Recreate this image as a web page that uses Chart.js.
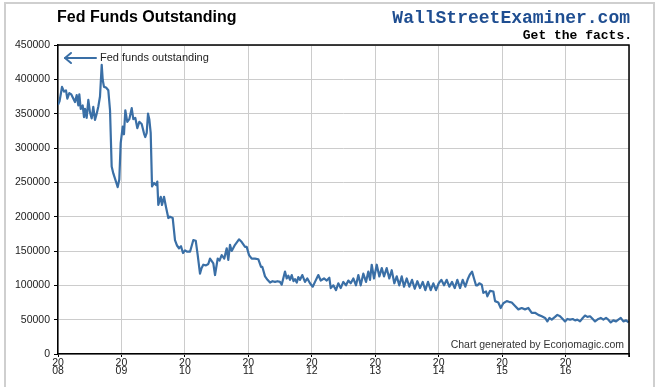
<!DOCTYPE html>
<html><head><meta charset="utf-8">
<script src="https://cdn.jsdelivr.net/npm/chart.js@4"></script>
<style>
html,body{margin:0;padding:0;background:#fff;overflow:hidden}
#wrap{position:relative;width:659px;height:387px;overflow:hidden}
#c{position:absolute;left:0;top:0}
#frame{position:absolute;left:4px;top:2px;width:651px;height:400px;box-sizing:border-box;border:2px solid #cfcfcf;border-bottom:none}
.t{position:absolute;white-space:nowrap}
</style></head><body>
<div id="wrap">
<canvas id="c" width="659" height="387"></canvas>
<div id="frame"></div>
<div class="t" style="left:57px;top:9.2px;font:bold 16px/1 'Liberation Sans',Arial,sans-serif;color:#000">Fed Funds Outstanding</div>
<div class="t" style="right:29px;top:8.9px;font:bold 18px/1 'Liberation Mono','Courier New',monospace;color:#1f4e91">WallStreetExaminer.com</div>
<div class="t" style="right:27px;top:29.3px;font:bold 13px/1 'Liberation Mono','Courier New',monospace;color:#000">Get the facts.</div>
<div class="t" style="left:100px;top:52.2px;font:11px/1 'Liberation Sans',Arial,sans-serif;color:#222">Fed funds outstanding</div>
<div class="t" style="right:35px;top:339.4px;font:10.5px/1 'Liberation Sans',Arial,sans-serif;color:#333">Chart generated by Economagic.com</div>
</div>
<script>
const dates = [
2008.000,2008.024,2008.047,2008.063,2008.095,2008.126,2008.147,2008.178,2008.210,2008.241,
2008.268,2008.295,2008.320,2008.336,2008.358,2008.389,2008.410,2008.426,2008.452,2008.478,
2008.504,2008.531,2008.556,2008.583,2008.610,2008.635,2008.662,2008.689,2008.705,2008.725,
2008.757,2008.793,2008.820,2008.846,2008.872,2008.914,2008.941,2008.966,2008.988,2009.020,
2009.040,2009.061,2009.092,2009.124,2009.162,2009.187,2009.218,2009.250,2009.282,2009.319,
2009.356,2009.376,2009.398,2009.419,2009.439,2009.461,2009.482,2009.513,2009.545,2009.565,
2009.581,2009.619,2009.639,2009.671,2009.702,2009.739,2009.765,2009.808,2009.844,2009.876,
2009.907,2009.939,2009.970,2010.002,2010.033,2010.081,2010.133,2010.171,2010.202,2010.238,
2010.262,2010.290,2010.333,2010.369,2010.396,2010.448,2010.475,2010.517,2010.546,2010.580,
2010.621,2010.659,2010.684,2010.711,2010.738,2010.790,2010.853,2010.896,2010.948,2010.974,
2011.011,2011.053,2011.105,2011.157,2011.200,2011.220,2011.263,2011.302,2011.342,2011.381,
2011.421,2011.460,2011.499,2011.526,2011.578,2011.605,2011.630,2011.657,2011.684,2011.712,
2011.736,2011.763,2011.788,2011.815,2011.851,2011.893,2011.930,2011.972,2012.015,2012.051,
2012.103,2012.141,2012.193,2012.236,2012.277,2012.299,2012.340,2012.382,2012.418,2012.456,
2012.497,2012.540,2012.576,2012.614,2012.655,2012.697,2012.734,2012.771,2012.812,2012.855,
2012.891,2012.918,2012.945,2012.981,2013.024,2013.065,2013.103,2013.139,2013.181,2013.222,
2013.260,2013.301,2013.339,2013.380,2013.418,2013.454,2013.497,2013.538,2013.580,2013.623,
2013.664,2013.706,2013.749,2013.790,2013.832,2013.875,2013.916,2013.958,2014.001,2014.042,
2014.085,2014.127,2014.168,2014.211,2014.253,2014.294,2014.337,2014.379,2014.420,2014.463,
2014.494,2014.526,2014.557,2014.589,2014.613,2014.641,2014.679,2014.704,2014.747,2014.767,
2014.810,2014.862,2014.889,2014.940,2014.978,2015.019,2015.073,2015.109,2015.152,2015.204,
2015.256,2015.309,2015.361,2015.413,2015.467,2015.519,2015.571,2015.625,2015.677,2015.713,
2015.745,2015.782,2015.834,2015.871,2015.913,2015.956,2015.992,2016.028,2016.071,2016.113,
2016.150,2016.186,2016.228,2016.271,2016.307,2016.344,2016.386,2016.429,2016.465,2016.517,
2016.555,2016.596,2016.638,2016.674,2016.712,2016.753,2016.796,2016.832,2016.870,2016.911,
2016.954,2016.995
];
const fedFunds = [
363000,368000,380000,389000,382000,384000,372000,380000,378000,372000,
367000,377000,362000,378000,357000,362000,345000,357000,344000,370000,
352000,343000,360000,341000,350000,360000,375000,421000,399000,389000,
388000,384000,355000,273000,263000,251000,243000,254000,307000,331000,
320000,355000,338000,342000,358000,342000,344000,329000,338000,335000,
321000,316000,322000,350000,342000,322000,244000,249000,246000,251000,
217000,229000,217000,229000,214000,198000,200000,198000,166000,158000,
154000,157000,147000,151000,149000,149000,166000,165000,144000,117000,
125000,130000,129000,131000,139000,132000,115000,139000,136000,144000,
139000,154000,137000,159000,150000,159000,167000,163000,156000,156000,
144000,139000,139000,138000,127000,127000,113000,108000,104000,106000,
105000,106000,105000,101000,120000,110000,114000,108000,115000,106000,
109000,104000,112000,108000,115000,105000,110000,103000,98000,105000,
115000,107000,110000,107000,111000,96000,100000,93000,103000,96000,
105000,100000,107000,103000,110000,100000,115000,100000,117000,105000,
120000,108000,130000,110000,130000,113000,125000,113000,125000,110000,
122000,103000,113000,100000,113000,98000,110000,98000,108000,95000,
106000,96000,105000,93000,105000,93000,103000,93000,103000,108000,
100000,108000,98000,105000,96000,108000,96000,108000,98000,110000,
116000,120000,110000,100000,100000,103000,101000,89000,91000,84000,
92000,91000,77000,75000,67000,74000,77000,76000,75000,70000,
65000,67000,65000,67000,60000,60000,57000,55000,52500,47500,
52500,50000,54000,57000,55000,51000,47500,51000,50000,51000,
49000,50000,47500,52500,56000,54000,55000,51000,47500,51000,
52500,50000,52500,50000,46000,49000,47500,50000,52500,47500,
49000,46000
];
const yearTicks = [2008,2009,2010,2011,2012,2013,2014,2015,2016];
const yTickStep = 50000;

const LINE = '#3a6fa6';
const FONT = "'Liberation Sans', Arial, sans-serif";

const decor = {
  id:'decor',
  afterDatasetsDraw(chart){
    const {ctx, chartArea:a} = chart;
    ctx.save();
    ctx.strokeStyle = LINE; ctx.lineWidth = 2; ctx.lineCap='round'; ctx.lineJoin='round';
    const y = a.top + 13, x0 = a.left + 7;
    ctx.beginPath(); ctx.moveTo(x0, y); ctx.lineTo(x0 + 31, y); ctx.stroke();
    ctx.beginPath(); ctx.moveTo(x0 + 6, y - 5); ctx.lineTo(x0, y); ctx.lineTo(x0 + 6, y + 5); ctx.stroke();
    ctx.restore();
  },
  afterDraw(chart){
    const {ctx, chartArea:a} = chart;
    ctx.save();
    ctx.strokeStyle = '#000'; ctx.lineWidth = 1.5;
    ctx.beginPath(); ctx.moveTo(a.left, a.top); ctx.lineTo(a.right, a.top); ctx.lineTo(a.right, a.bottom + 3); ctx.stroke();
    ctx.restore();
  }
};

new Chart(document.getElementById('c'), {
  type:'line',
  data:{datasets:[{
    label:'Fed funds outstanding',
    data: dates.map((d,i)=>({x:d, y:fedFunds[i]})),
    borderColor:LINE, borderWidth:2.2, pointRadius:0, tension:0, fill:false,
    borderJoinStyle:'round'
  }]},
  options:{
    responsive:false, animation:false, devicePixelRatio:1,
    layout:{padding:{top:45, right:30, left:0, bottom:0}},
    plugins:{legend:{display:false}, tooltip:{enabled:false}, title:{display:false}},
    scales:{
      x:{
        type:'linear', min:2008, max:2017,
        afterFit(s){ s.height = 33; },
        ticks:{stepSize:1, autoSkip:false, maxRotation:0, minRotation:0, padding:1.5, color:'#222',
          font:{family:FONT, size:10.5, lineHeight:0.8},
          callback:(v)=>{ const i = yearTicks.indexOf(v); return i < 0 ? '' : ['20', String(yearTicks[i]).slice(2)]; }},
        grid:{color:'#cccccc', lineWidth:1, tickLength:3, tickColor:'#000', tickWidth:1},
        border:{color:'#000', width:1.5}
      },
      y:{
        min:0, max:450000,
        afterFit(s){ s.width = 58; },
        ticks:{stepSize:yTickStep, padding:4, color:'#222', font:{family:FONT, size:10.5},
          callback:(v)=>String(v)},
        grid:{color:'#cccccc', lineWidth:1, tickLength:4, tickColor:'#000', tickWidth:1},
        border:{color:'#000', width:1.5}
      }
    }
  },
  plugins:[decor]
});
</script>
</body></html>
